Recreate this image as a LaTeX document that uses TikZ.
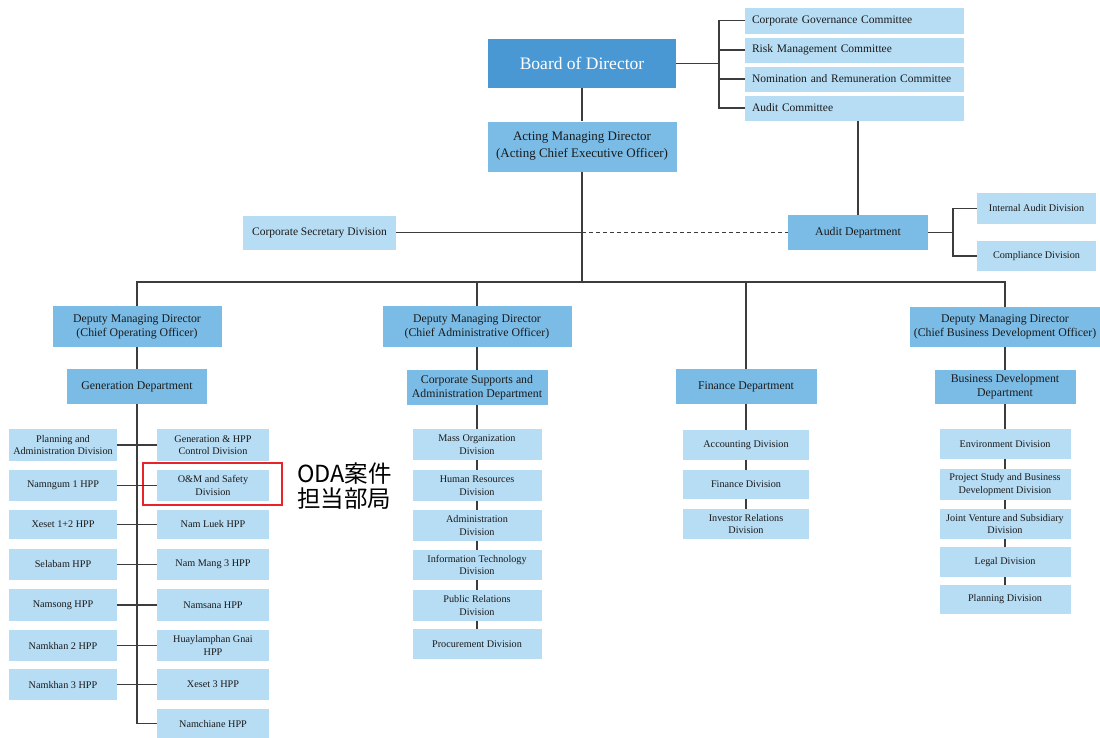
\documentclass[tikz,border=0pt]{standalone}
\usepackage{fontspec}
\setmainfont{Liberation Serif}
\newfontfamily\cjk{Noto Sans CJK JP}
\definecolor{dblue}{HTML}{4A98D3}
\definecolor{mblue}{HTML}{7BBCE7}
\definecolor{lblue}{HTML}{B7DDF5}
\definecolor{txt}{HTML}{1A1A1A}
\definecolor{lcol}{HTML}{3C3C3C}
\definecolor{redc}{HTML}{E8242A}
\tikzset{
  base/.style={inner sep=0pt, align=center, text=txt},
  sz/.style 2 args={minimum width=#1pt, minimum height=#2pt},
  lbox/.style={base, fill=lblue, font=\fontsize{10.2}{12.6}\selectfont},
  mbox/.style={base, fill=mblue, font=\fontsize{11.8}{14}\selectfont},
  dbox/.style={base, fill=dblue, text=white, font=\fontsize{17.5}{20}\selectfont},
  cbox/.style={base, fill=lblue, font=\fontsize{11.5}{13}\selectfont, align=left, text width=205pt, inner xsep=7pt, minimum height=25pt},
  conn/.style={draw=lcol, line width=1.3pt},
  thick conn/.style={draw=lcol, line width=1.8pt},
}
\begin{document}
\begin{tikzpicture}[x=1pt,y=-1pt]
\useasboundingbox (0,0) rectangle (1100,737);
% top
\node[dbox, sz={188}{49}] (board) at (582,63.5) {Board of Director};
\node[mbox, sz={189}{50}, font=\fontsize{13}{17}\selectfont] (acting) at (582,146.5) {Acting Managing Director\\(Acting Chief Executive Officer)};
\node[cbox, minimum height=26pt] (cg) at (854.5,20.5) {Corporate Governance Committee};
\node[cbox] (risk) at (854.5,50) {Risk Management Committee};
\node[cbox] (nom) at (854.5,79) {Nomination and Remuneration Committee};
\node[cbox] (audc) at (854.5,108) {Audit Committee};
\node[lbox, sz={153}{34}, font=\fontsize{11.5}{13}\selectfont] (corpsec) at (319.5,232.5) {Corporate Secretary Division};
\node[mbox, sz={140}{35}] (auddept) at (858,232.5) {Audit Department};
\node[lbox, sz={119}{31}] (ia) at (1036.5,208.5) {Internal Audit Division};
\node[lbox, sz={119}{30}] (comp) at (1036.5,256) {Compliance Division};
% left column
\node[mbox, sz={169}{41}] (coo) at (137,326.5) {Deputy Managing Director\\(Chief Operating Officer)};
\node[mbox, sz={140}{35}] (gendept) at (137,386.5) {Generation Department};
\node[lbox, sz={108}{32}] (plan) at (63,445) {Planning and\\Administration Division};
\node[lbox, sz={112}{32}] (genc) at (213,445) {Generation \& HPP\\Control Division};
\node[lbox, sz={108}{31}] (nam1) at (63,485.5) {Namngum 1 HPP};
\node[lbox, sz={112}{31}] (om) at (213,485.5) {O\&M and Safety\\Division};
\node[lbox, sz={108}{29}] (xes12) at (63,524.5) {Xeset 1+2 HPP};
\node[lbox, sz={112}{29}] (luek) at (213,524.5) {Nam Luek HPP};
\node[lbox, sz={108}{31}] (sela) at (63,564.5) {Selabam HPP};
\node[lbox, sz={112}{31}] (mang) at (213,564.5) {Nam Mang 3 HPP};
\node[lbox, sz={108}{32}] (nams) at (63,605) {Namsong HPP};
\node[lbox, sz={112}{32}] (namsa) at (213,605) {Namsana HPP};
\node[lbox, sz={108}{31}] (nk2) at (63,645.5) {Namkhan 2 HPP};
\node[lbox, sz={112}{31}] (huay) at (213,645.5) {Huaylamphan Gnai\\HPP};
\node[lbox, sz={108}{31}] (nk3) at (63,684.5) {Namkhan 3 HPP};
\node[lbox, sz={112}{31}] (xes3) at (213,684.5) {Xeset 3 HPP};
\node[lbox, sz={112}{29}] (namch) at (213,723.5) {Namchiane HPP};
% red highlight
\node[draw=redc, line width=1.5pt, sz={139}{42}, inner sep=0pt] (redbox) at (212.5,484) {};
\node[anchor=west, inner sep=0pt, align=left, font=\cjk\fontsize{23.5}{24.5}\selectfont, text=black] (oda) at (297,486) {ODA案件\\担当部局};
% middle column
\node[mbox, sz={189}{41}] (cao) at (477,326.5) {Deputy Managing Director\\(Chief Administrative Officer)};
\node[mbox, sz={141}{35}] (csad) at (477,387.5) {Corporate Supports and\\Administration Department};
\node[lbox, sz={129}{31}] (mass) at (477,444.5) {Mass Organization\\Division};
\node[lbox, sz={129}{31}] (hr) at (477,485.5) {Human Resources\\Division};
\node[lbox, sz={129}{31}] (adm) at (477,525.5) {Administration\\Division};
\node[lbox, sz={129}{30}] (it) at (477,565) {Information Technology\\Division};
\node[lbox, sz={129}{31}] (pr) at (477,605.5) {Public Relations\\Division};
\node[lbox, sz={129}{30}] (proc) at (477,644) {Procurement Division};
% finance column
\node[mbox, sz={141}{35}] (findept) at (746,386.5) {Finance Department};
\node[lbox, sz={126}{30}] (acc) at (746,445) {Accounting Division};
\node[lbox, sz={126}{29}] (findiv) at (746,484.5) {Finance Division};
\node[lbox, sz={126}{30}] (inv) at (746,524) {Investor Relations\\Division};
% bd column
\node[mbox, sz={190}{40}] (cbdo) at (1005,327) {Deputy Managing Director\\(Chief Business Development Officer)};
\node[mbox, sz={141}{34}] (bdd) at (1005,387) {Business Development\\Department};
\node[lbox, sz={131}{30}] (env) at (1005,444) {Environment Division};
\node[lbox, sz={131}{31}] (psb) at (1005,484.5) {Project Study and Business\\Development Division};
\node[lbox, sz={131}{30}] (jv) at (1005,524) {Joint Venture and Subsidiary\\Division};
\node[lbox, sz={131}{30}] (legal) at (1005,562) {Legal Division};
\node[lbox, sz={131}{29}] (pland) at (1005,599.5) {Planning Division};
% coordinates
\coordinate (busy) at (0,282);
\coordinate (cbr) at (719,63.5);
% connectors top
\draw[conn] (board.south) -- (acting.north);
\draw[thick conn] (board.east) -- (cbr);
\draw[thick conn] (cg.west) -- (cg.west -| cbr) |- (audc.west);
\draw[thick conn] (risk.west) -- (risk.west -| cbr);
\draw[thick conn] (nom.west) -- (nom.west -| cbr);
\draw[conn] (audc.south -| auddept.north) -- (auddept.north);
\draw[conn] (acting.south) -- (acting.south |- busy);
\draw[conn] (corpsec.east) -- (corpsec.east -| acting.south);
\draw[conn, dashed, dash pattern=on 4pt off 3pt] (corpsec.east -| acting.south) -- (auddept.west);
\draw[thick conn] (auddept.east) -- ++(25,0);
\draw[thick conn] (ia.west) -- ++(-24,0) |- (comp.west);
% bus
\draw[conn] (coo.north) -- (coo.north |- busy) -| (cbdo.north);
\draw[conn] (cao.north) -- (cao.north |- busy);
\draw[conn] (findept.north) -- (findept.north |- busy);
% left
\draw[conn] (coo.south) -- (gendept.north);
\draw[conn] (gendept.south) |- (namch.west);
\draw[conn] (plan.east) -- (genc.west);
\draw[conn] (nam1.east) -- (om.west);
\draw[conn] (xes12.east) -- (luek.west);
\draw[conn] (sela.east) -- (mang.west);
\draw[conn] (nams.east) -- (namsa.west);
\draw[conn] (nk2.east) -- (huay.west);
\draw[conn] (nk3.east) -- (xes3.west);
% middle
\draw[conn] (cao.south) -- (csad.north) (csad.south) -- (mass.north) (mass.south) -- (hr.north) (hr.south) -- (adm.north) (adm.south) -- (it.north) (it.south) -- (pr.north) (pr.south) -- (proc.north);
% finance
\draw[conn] (findept.south) -- (acc.north) (acc.south) -- (findiv.north) (findiv.south) -- (inv.north);
% bd
\draw[conn] (cbdo.south) -- (bdd.north) (bdd.south) -- (env.north) (env.south) -- (psb.north) (psb.south) -- (jv.north) (jv.south) -- (legal.north) (legal.south) -- (pland.north);
\end{tikzpicture}
\end{document}
